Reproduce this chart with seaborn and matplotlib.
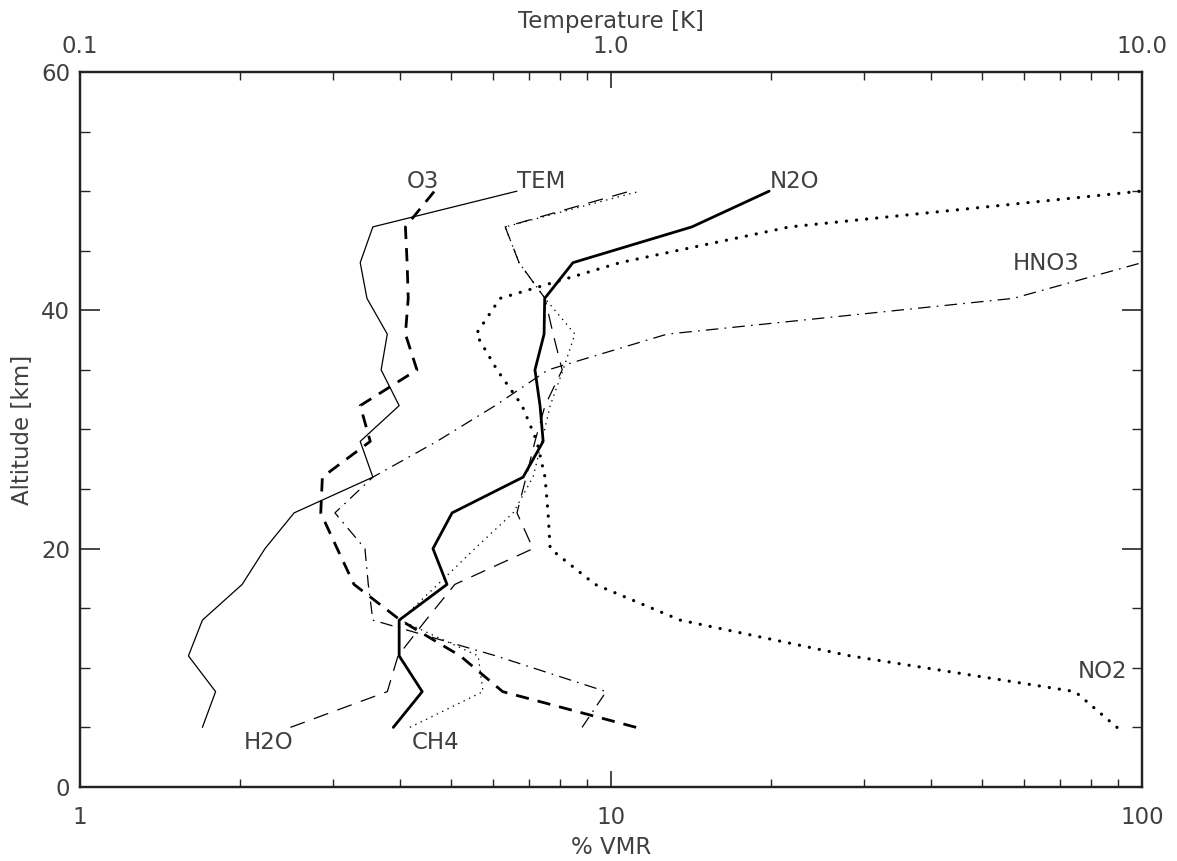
import matplotlib
matplotlib.use("Agg")
import matplotlib.pyplot as plt
import numpy as np
import pandas as pd
import seaborn as sns
from matplotlib.ticker import FixedLocator, FixedFormatter, NullFormatter, MultipleLocator, LogLocator

# ---------------- data ----------------
altitude = [5, 8, 11, 14, 17, 20, 23, 26, 29, 32, 35, 38, 41, 44, 47, 50]

# temperature (top axis, K)
tem = [0.170, 0.180, 0.160, 0.170, 0.202, 0.223, 0.253, 0.356, 0.337, 0.399,
       0.369, 0.379, 0.347, 0.337, 0.356, 0.665]
# % VMR (bottom axis)
o3 = [11.15, 6.25, 5.20, 4.01, 3.28, 3.05, 2.84, 2.86, 3.52, 3.37,
      4.31, 4.10, 4.15, 4.13, 4.10, 4.65]
n2o = [3.89, 4.41, 3.99, 3.99, 4.91, 4.62, 5.02, 6.83, 7.45, 7.35,
       7.19, 7.48, 7.50, 8.48, 14.2, 19.85]
no2 = [89.7, 74.8, 28.2, 13.5, 9.33, 7.68, 7.61, 7.51, 7.25, 6.80,
       6.10, 5.57, 6.18, 10.4, 21.7, 99.5]
hno3_alt = [5, 8, 11, 14, 17, 20, 23, 26, 29, 32, 35, 38, 41, 44]
hno3 = [8.82, 9.79, 6.07, 3.56, 3.49, 3.44, 3.02, 3.56, 4.70, 6.05,
        7.61, 12.75, 57.2, 100.0]
h2o = [2.49, 3.79, 3.97, 4.48, 5.08, 7.13, 6.65, 6.92, 7.19, 7.51,
       8.09, 7.78, 7.51, 6.71, 6.32, 10.86]
ch4 = [4.18, 5.74, 5.62, 4.01, 4.72, 5.54, 6.54, 7.13, 7.41, 7.68,
       8.12, 8.55, 7.51, 6.71, 6.32, 11.34]

labels = ["O3", "TEM", "N2O", "HNO3", "NO2", "H2O", "CH4"]
label_x = [4.13, 6.65, 19.93, 57.2, 75.8, 2.03, 4.22]
label_y = [50.85, 50.85, 50.85, 43.9, 9.65, 3.7, 3.7]

x_major = [1, 10, 100]
x_major_labels = ["1", "10", "100"]
t_major = [0.1, 1.0, 10.0]
t_major_labels = ["0.1", "1.0", "10.0"]
y_major = [0, 20, 40, 60]

# ---------------- style ----------------
sns.set_style("ticks")
plt.rcParams["font.family"] = ["DejaVu Sans"]
plt.rcParams["lines.scale_dashes"] = False
TXT = "#404040"
FS = 16.5

fig = plt.figure(figsize=(11.77, 8.61), dpi=100)
ax = fig.add_axes([0.0680, 0.0860, 0.9023, 0.8304])
ax.set_xscale("log")
ax.set_xlim(1, 100)
ax.set_ylim(0, 60)

def draw(axis, xs, ys, **kw):
    df = pd.DataFrame({"x": xs, "y": ys})
    sns.lineplot(data=df, x="x", y="y", sort=False, estimator=None,
                 ax=axis, color="black", legend=False, **kw)

draw(ax, o3, altitude, lw=2.0, linestyle=(0, (9.5, 6.5)))
draw(ax, n2o, altitude, lw=2.0, linestyle="-")
draw(ax, no2, altitude, lw=2.3, linestyle=(0, (0.1, 7.2)), dash_capstyle="round")
draw(ax, hno3, hno3_alt, lw=0.9, linestyle=(0, (9, 4.5, 1.2, 4.5)))
draw(ax, h2o, altitude, lw=0.9, linestyle=(0, (11, 7)))
draw(ax, ch4, altitude, lw=0.9, linestyle=(0, (1.0, 3.3)))

# top axis: temperature
ax2 = ax.twiny()
ax2.set_xscale("log")
ax2.set_xlim(0.1, 10)
draw(ax2, tem, altitude, lw=0.9, linestyle="-")
ax2.set_ylim(0, 60)

for a in (ax, ax2):
    for s in a.spines.values():
        s.set_linewidth(1.6)
        s.set_color("#222222")
        s.set_visible(True)

# bottom axis ticks
ax.xaxis.set_major_locator(FixedLocator(x_major))
ax.xaxis.set_major_formatter(FixedFormatter(x_major_labels))
ax.xaxis.set_minor_locator(LogLocator(base=10, subs=np.arange(2, 10)))
ax.xaxis.set_minor_formatter(NullFormatter())
ax.tick_params(axis="x", which="major", direction="in", length=11.5, width=1.2,
               bottom=True, top=False, labelsize=FS, labelcolor=TXT, pad=14)
ax.tick_params(axis="x", which="minor", direction="in", length=5.8, width=1.0,
               bottom=True, top=False)

# y ticks
ax.yaxis.set_major_locator(FixedLocator(y_major))
ax.yaxis.set_minor_locator(MultipleLocator(5))
ax.tick_params(axis="y", which="major", direction="in", length=14.5, width=1.2,
               left=True, right=True, labelsize=FS, labelcolor=TXT, pad=7)
ax.tick_params(axis="y", which="minor", direction="in", length=7.2, width=1.0,
               left=True, right=True)

# top axis ticks
ax2.xaxis.set_major_locator(FixedLocator(t_major))
ax2.xaxis.set_major_formatter(FixedFormatter(t_major_labels))
ax2.xaxis.set_minor_locator(LogLocator(base=10, subs=np.arange(2, 10)))
ax2.xaxis.set_minor_formatter(NullFormatter())
ax2.tick_params(axis="x", which="major", direction="in", length=11.5, width=1.2,
                top=True, bottom=False, labelsize=FS, labelcolor=TXT, pad=10)
ax2.tick_params(axis="x", which="minor", direction="in", length=5.8, width=1.0,
                top=True, bottom=False)
ax2.tick_params(axis="y", which="both", left=False, right=False,
                labelleft=False, labelright=False)
ax2.set_ylabel("")

ax.set_xlabel("% VMR", fontsize=FS, color=TXT, labelpad=5)
ax.set_ylabel("Altitude [km]", fontsize=FS, color=TXT, labelpad=5)
ax2.set_xlabel("Temperature [K]", fontsize=FS, color=TXT, labelpad=5)

for t, xv, yv in zip(labels, label_x, label_y):
    ax.text(xv, yv, t, fontsize=FS, color=TXT, ha="left", va="center")

fig.savefig("out.png", dpi=100)
